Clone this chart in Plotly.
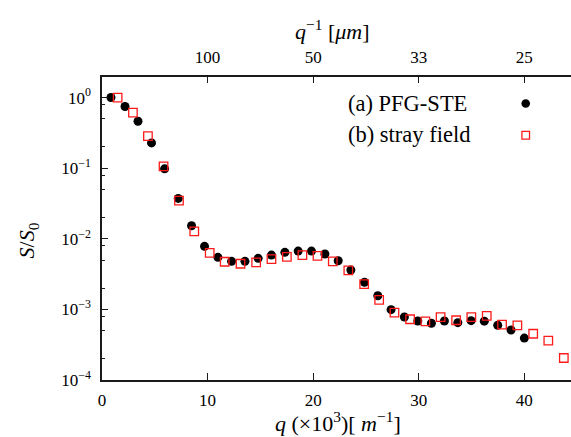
import plotly.graph_objects as go

# Echo attenuation S/S0 versus wave number q (in 10^3 m^-1)
q_pfg = [0.85, 2.18, 3.41, 4.69, 5.93, 7.22, 8.48, 9.71, 10.98, 12.27, 13.54,
         14.79, 16.05, 17.32, 18.58, 19.84, 21.11, 22.37, 23.57, 24.86, 26.12,
         27.38, 28.64, 29.91, 31.20, 32.43, 33.70, 34.96, 36.21, 37.48, 38.74, 40.00]
s_pfg = [1.0, 0.746, 0.462, 0.228, 0.0977, 0.0373, 0.0153, 0.00781, 0.00546,
         0.00479, 0.00479, 0.00528, 0.00588, 0.00642, 0.00670, 0.00670, 0.00608,
         0.00489, 0.00361, 0.00242, 0.00156, 0.000991, 0.000780, 0.000685,
         0.000636, 0.000685, 0.000648, 0.000692, 0.000681, 0.000597, 0.000511,
         0.000392]

q_stray = [1.48, 2.93, 4.35, 5.83, 7.29, 8.74, 10.20, 11.62, 13.12, 14.60, 16.05,
           17.51, 18.98, 20.41, 21.86, 23.33, 24.83, 26.25, 27.70, 29.18, 30.63,
           32.07, 33.54, 34.98, 36.44, 37.89, 39.34, 40.84, 42.27, 43.74]
s_stray = [1.0, 0.610, 0.285, 0.106, 0.0348, 0.0127, 0.00633, 0.00473, 0.00443,
           0.00464, 0.00516, 0.00556, 0.00588, 0.00572, 0.00479, 0.00357, 0.00228,
           0.00136, 0.000898, 0.000725, 0.000675, 0.000776, 0.000702, 0.000776,
           0.000807, 0.000608, 0.000593, 0.000452, 0.000361, 0.000205]

x_ticks = [0, 10, 20, 30, 40]
top_tick_pos = [10, 20, 30, 40]
top_tick_text = ["100", "50", "33", "25"]
y_major = [1e-4, 1e-3, 1e-2, 1e-1, 1e0]
y_major_text = ["10<sup>−4</sup>", "10<sup>−3</sup>", "10<sup>−2</sup>",
                "10<sup>−1</sup>", "10<sup>0</sup>"]
y_minor = [m * 10 ** e for e in range(-4, 0) for m in (2, 5, 8)]

legend_labels = ["(a) PFG-STE", "(b) stray field"]

FONT = "Liberation Serif, Times New Roman, serif"
AX = "#1a1a1a"
RED = "#ff1a1a"

W, H = 571, 437
L, R, T, B = 101.7, 0, 76.7, 57
x_range = [0, (W - L - R) / 10.565]
y_range = [-4.0, 0.291]

fig = go.Figure()
fig.add_trace(go.Scatter(
    x=q_pfg, y=s_pfg, mode="markers", name=legend_labels[0],
    marker=dict(symbol="circle", size=9, color="black", line=dict(width=0)),
))
fig.add_trace(go.Scatter(
    x=q_stray, y=s_stray, mode="markers", name=legend_labels[1],
    marker=dict(symbol="square-open", size=8.5, color=RED, line=dict(width=1.3, color=RED)),
))
# secondary x axis on top, showing q^-1 in micrometres
fig.add_trace(go.Scatter(x=[None], y=[None], xaxis="x2", showlegend=False, hoverinfo="skip"))

tick_font = dict(family=FONT, size=17, color="black")

fig.update_layout(
    width=W, height=H,
    margin=dict(l=L, r=R, t=T, b=B, pad=0),
    paper_bgcolor="white", plot_bgcolor="white",
    showlegend=False,
    xaxis=dict(
        range=x_range, tickvals=x_ticks, ticktext=[str(v) for v in x_ticks],
        ticks="inside", ticklen=7, tickwidth=1, tickcolor=AX,
        showline=True, linecolor=AX, linewidth=1.5, showgrid=False, zeroline=False,
        tickfont=tick_font, ticklabelstandoff=4,
    ),
    xaxis2=dict(
        overlaying="x", side="top", range=x_range,
        tickvals=top_tick_pos, ticktext=top_tick_text,
        ticks="inside", ticklen=6, tickwidth=1, tickcolor=AX,
        showline=True, linecolor=AX, linewidth=1.5, showgrid=False, zeroline=False,
        tickfont=tick_font, ticklabelstandoff=5,
    ),
    yaxis=dict(
        type="log", range=y_range, tickvals=y_major, ticktext=y_major_text,
        ticks="inside", ticklen=6, tickwidth=1, tickcolor=AX,
        minor=dict(tickvals=y_minor, ticks="inside", ticklen=3, tickwidth=1, tickcolor=AX),
        showline=True, linecolor=AX, linewidth=1.5, showgrid=False, zeroline=False,
        tickfont=tick_font, ticklabelstandoff=6,
    ),
)

pw = W - L - R
ph = H - T - B


def px_x(p):
    return (p - L) / pw


def px_y(p):
    return (H - B - p) / ph


title_font = dict(family=FONT, size=22, color="black")

# axis titles
fig.add_annotation(
    text="<i>q</i> (×10<sup>3</sup>)[ <i>m</i><sup>−1</sup>]",
    x=px_x(337.5), y=px_y(422), xref="paper", yref="paper",
    xanchor="center", yanchor="middle", showarrow=False, font=title_font,
)
fig.add_annotation(
    text="<i>q</i><sup>−1</sup> [<i>μm</i>]",
    x=px_x(332), y=px_y(30), xref="paper", yref="paper",
    xanchor="center", yanchor="middle", showarrow=False, font=title_font,
)
fig.add_annotation(
    text="<i>S</i>/<i>S</i><sub>0</sub>",
    x=px_x(28), y=px_y(240), xref="paper", yref="paper",
    xanchor="center", yanchor="middle", showarrow=False, textangle=-90,
    font=title_font,
)

# legend: text on the left, symbol on the right
for label, cy in zip(legend_labels, (103.3, 134.5)):
    fig.add_annotation(
        text=label, x=px_x(346), y=px_y(cy), xref="paper", yref="paper",
        xanchor="left", yanchor="middle", showarrow=False,
        font=dict(family=FONT, size=22.5, color="black"),
    )
fig.add_shape(
    type="circle", xref="paper", yref="paper",
    xsizemode="pixel", ysizemode="pixel",
    xanchor=px_x(525.7), yanchor=px_y(103.3),
    x0=-4.3, x1=4.3, y0=-4.3, y1=4.3,
    fillcolor="black", line=dict(width=0),
)
fig.add_shape(
    type="rect", xref="paper", yref="paper",
    xsizemode="pixel", ysizemode="pixel",
    xanchor=px_x(525.7), yanchor=px_y(135),
    x0=-3.8, x1=3.8, y0=-3.8, y1=3.8,
    fillcolor="rgba(0,0,0,0)", line=dict(width=1.3, color=RED),
)

fig.write_html("out.html")
